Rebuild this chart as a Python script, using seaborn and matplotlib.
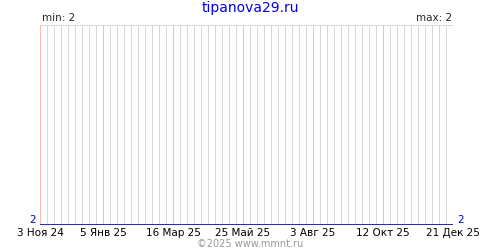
import matplotlib
matplotlib.use("Agg")
import matplotlib.pyplot as plt
import matplotlib.dates as mdates
import seaborn as sns
import pandas as pd

weeks = pd.date_range("2024-11-03", "2025-12-21", freq="7D")
values = [2, 2, 2, 2, 2, 2, 2, 2, 2, 2, 2, 2, 2, 2, 2, 2, 2, 2, 2, 2,
          2, 2, 2, 2, 2, 2, 2, 2, 2, 2, 2, 2, 2, 2, 2, 2, 2, 2, 2, 2,
          2, 2, 2, 2, 2, 2, 2, 2, 2, 2, 2, 2, 2, 2, 2, 2, 2, 2, 2, 2]
tick_dates = pd.to_datetime(["2024-11-03", "2025-01-05", "2025-03-16", "2025-05-25",
                             "2025-08-03", "2025-10-12", "2025-12-21"])
tick_labels = ["3 Ноя 24", "5 Янв 25", "16 Мар 25", "25 Май 25",
               "3 Авг 25", "12 Окт 25", "21 Дек 25"]
title = "tipanova29.ru"
footer = "©2025 www.mmnt.ru"

df = pd.DataFrame({"date": weeks[:len(values)], "value": values})

sns.set_theme(style="white")
plt.rcParams["font.family"] = ["DejaVu Sans"]

fig = plt.figure(figsize=(5, 2.5), dpi=100)
ax = fig.add_axes([0.08, 0.1, 0.826, 0.8])

week_num = [float(v) for v in mdates.date2num(weeks.to_pydatetime())]
tick_num = [float(v) for v in mdates.date2num(tick_dates.to_pydatetime())]
gray_num = [w for w in week_num if min(abs(w - t) for t in tick_num) > 0.5]

ax.vlines(gray_num, 0, 1, transform=ax.get_xaxis_transform(),
          colors="#d8d8d8", lw=0.72, zorder=0)
ax.vlines(tick_num, 0, 1, transform=ax.get_xaxis_transform(),
          colors="#ffb8b8", lw=0.72, zorder=1)
ax.axhline(3, color="#d8d8d8", lw=0.72, zorder=0)

sns.lineplot(x=week_num[:len(values)], y=values, ax=ax, color="#0000cc", lw=1.2, zorder=3)

ax.set_xlim(week_num[0], week_num[-1])
ax.set_ylim(2, 3)
for s in ax.spines.values():
    s.set_visible(False)
ax.set_xticks(tick_num)
ax.set_xticklabels(tick_labels, fontsize=7.5, color="black")
ax.tick_params(axis="x", length=0, pad=2)
ax.set_yticks([])
ax.set_xlabel("")
ax.set_ylabel("")

ax.text(0.005, 1.01, "min: 2", transform=ax.transAxes, fontsize=7.5, ha="left", va="bottom")
ax.text(0.998, 1.01, "max: 2", transform=ax.transAxes, fontsize=7.5, ha="right", va="bottom")
ax.text(-0.01, 0.0, "2", transform=ax.transAxes, fontsize=7.5, ha="right", va="bottom", color="#0000cc")
ax.text(1.01, 0.0, "2", transform=ax.transAxes, fontsize=7.5, ha="left", va="bottom", color="#0000cc")

fig.text(0.5, 0.995, title, ha="center", va="top", fontsize=10, color="#0000ee")
fig.text(0.5, 0.005, footer, ha="center", va="bottom", fontsize=7, color="#999999")

fig.savefig("out.png", dpi=100)
